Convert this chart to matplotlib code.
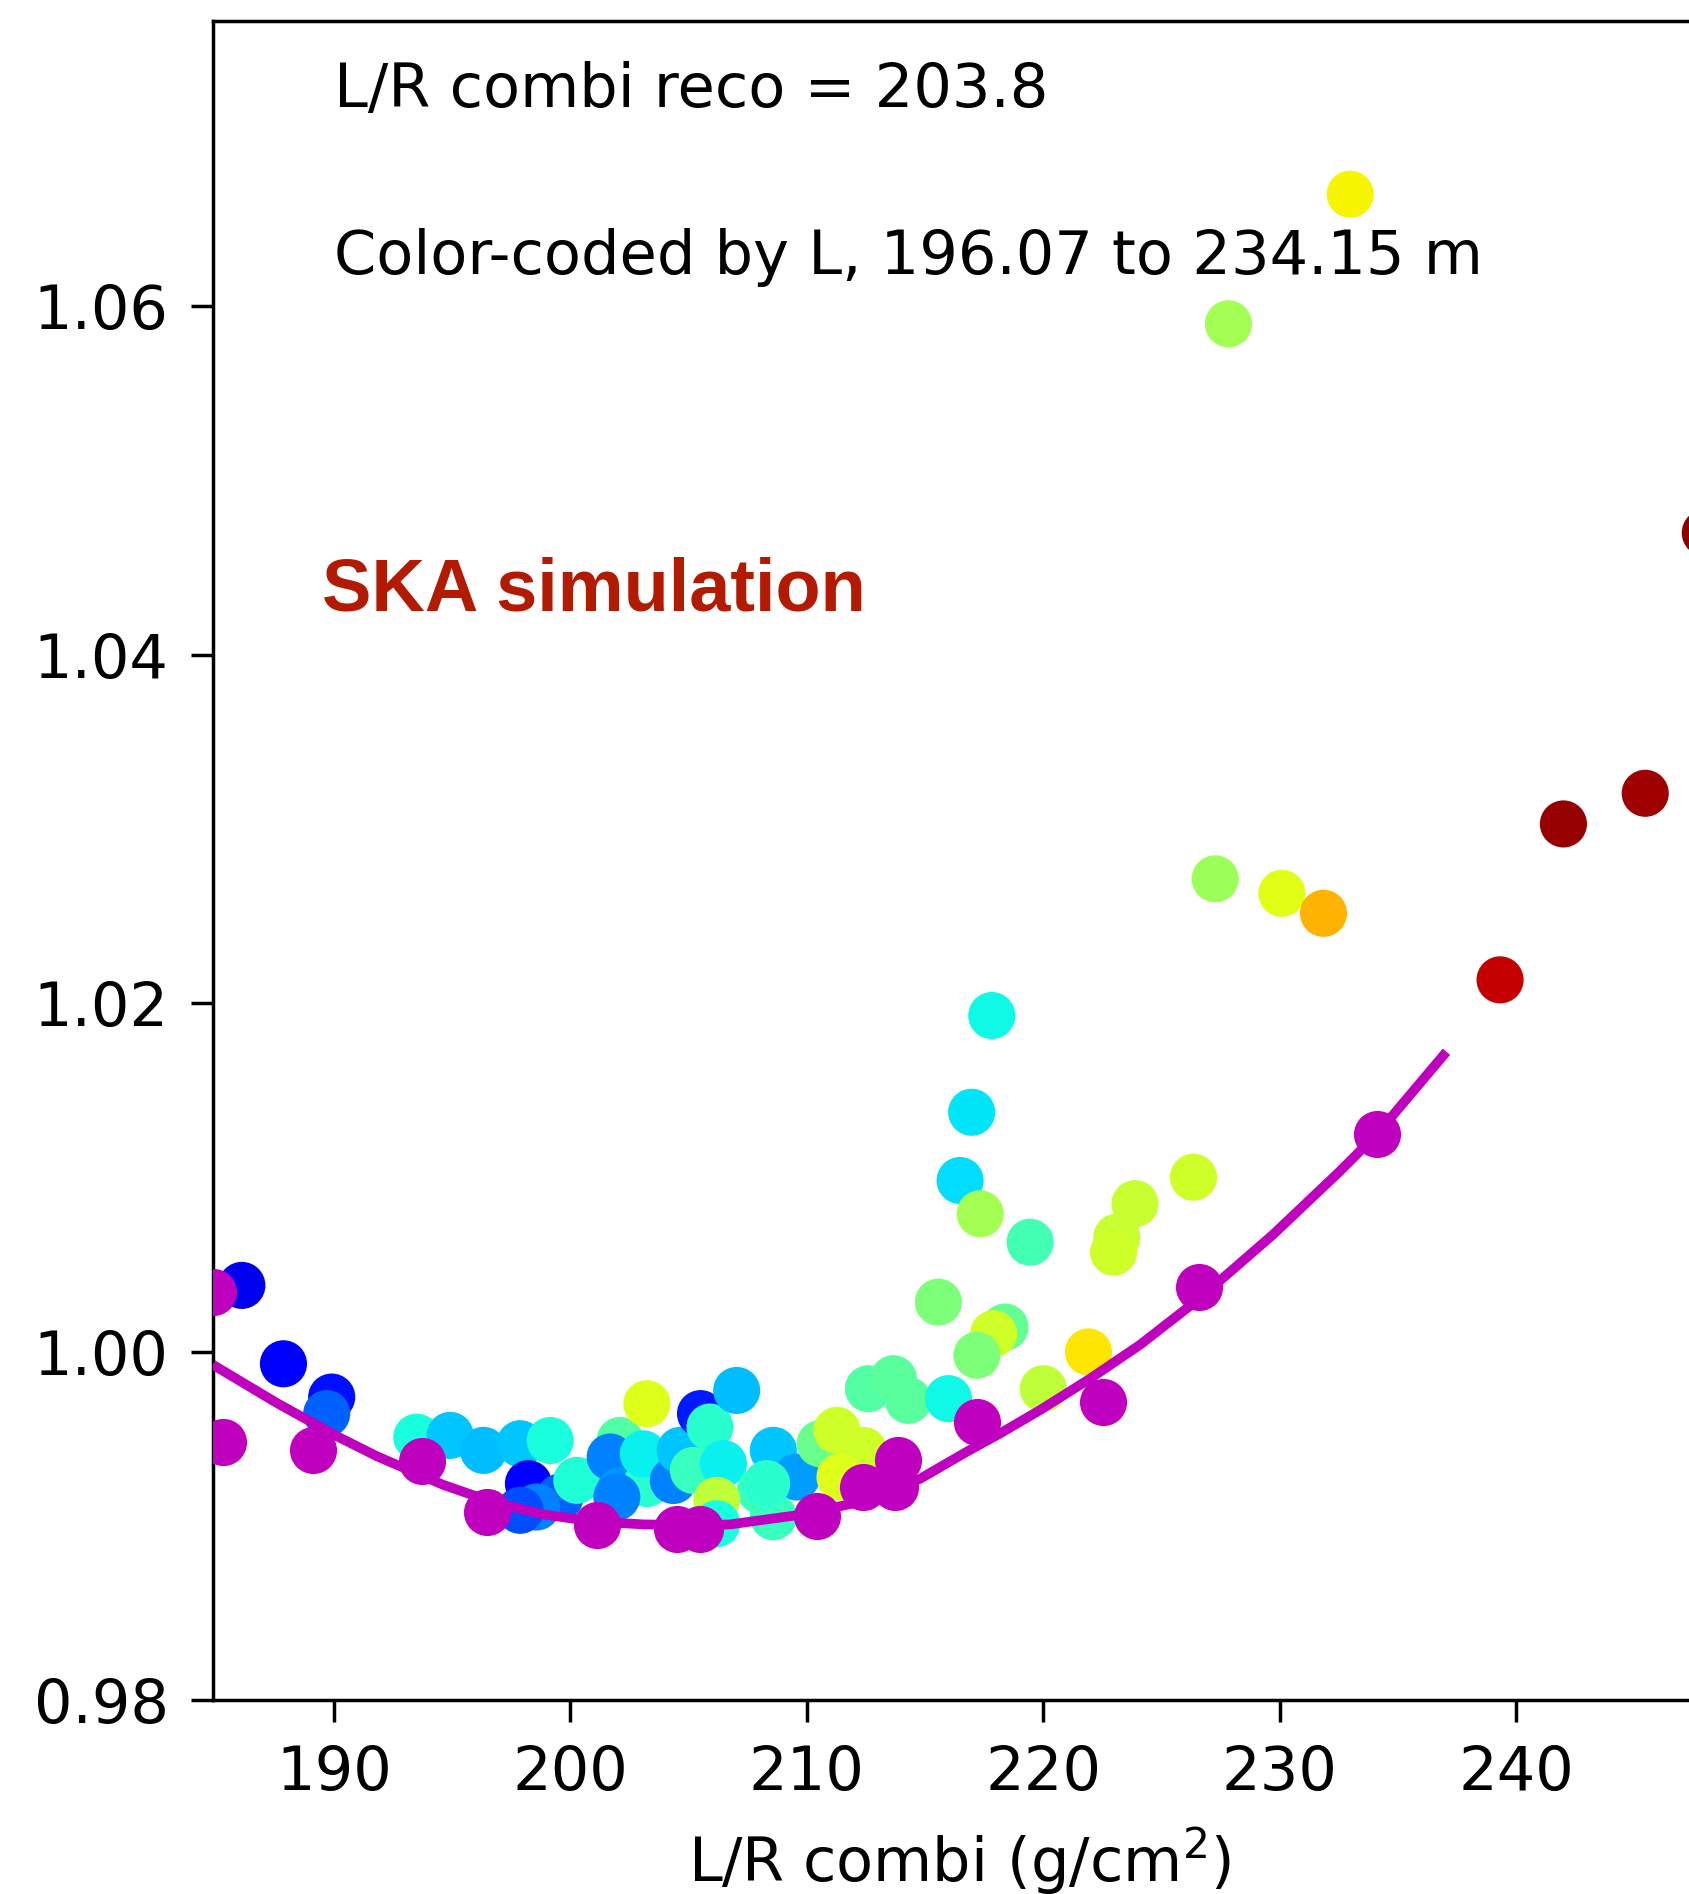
import matplotlib
matplotlib.use('Agg')
import matplotlib.pyplot as plt

# ---- data ----
# colour-coded points: L/R combi, ratio, colour level (0..1 on jet)
lr_combi = [186.10, 187.86, 189.90, 189.69, 193.50, 194.91, 196.32, 197.87, 199.14,
            198.22, 199.56, 198.57, 197.87, 200.27, 202.10, 203.23, 201.68, 202.10,
            203.23, 203.08, 201.96, 204.35, 204.64, 205.50, 205.90, 205.20, 206.47,
            207.03, 208.58, 209.56, 208.03, 210.56, 211.27, 212.39, 206.19, 208.58,
            206.19, 208.30, 211.40, 212.60, 213.66, 214.29, 215.99, 215.56, 218.38,
            217.90, 217.19, 221.91, 220.00, 217.82, 216.97, 216.48, 217.33, 219.44,
            226.35, 223.88, 223.11, 222.97, 227.27, 230.09, 231.85, 239.32, 242.00,
            245.46, 232.98, 227.83, 248.00]
ratio = [1.00380, 0.99930, 0.99739, 0.99644, 0.99509, 0.99519, 0.99433, 0.99471, 0.99490,
         0.99242, 0.99165, 0.99108, 0.99089, 0.99261, 0.99490, 0.99701, 0.99395, 0.99203,
         0.99242, 0.99413, 0.99165, 0.99260, 0.99433, 0.99644, 0.99567, 0.99318, 0.99357,
         0.99777, 0.99433, 0.99280, 0.99203, 0.99471, 0.99548, 0.99433, 0.99146, 0.99052,
         0.99012, 0.99242, 0.99280, 0.99787, 0.99844, 0.99720, 0.99730, 1.00284, 1.00141,
         1.00103, 0.99979, 0.99998, 0.99787, 1.01929, 1.01374, 1.00982, 1.00791, 1.00628,
         1.01001, 1.00849, 1.00657, 1.00571, 1.02714, 1.02631, 1.02516, 1.02134, 1.03029,
         1.03205, 1.06644, 1.05900, 1.04700]
colour_level = [0.10, 0.12, 0.14, 0.22, 0.38, 0.32, 0.31, 0.32, 0.38,
                0.11, 0.22, 0.25, 0.20, 0.39, 0.45, 0.62, 0.25, 0.27,
                0.40, 0.36, 0.25, 0.25, 0.32, 0.15, 0.40, 0.42, 0.36,
                0.31, 0.32, 0.28, 0.42, 0.48, 0.60, 0.60, 0.58, 0.42,
                0.38, 0.40, 0.62, 0.45, 0.46, 0.46, 0.37, 0.50, 0.47,
                0.60, 0.50, 0.667, 0.58, 0.37, 0.35, 0.34, 0.55, 0.43,
                0.60, 0.59, 0.59, 0.60, 0.54, 0.623, 0.72, 0.938, 0.978,
                0.971, 0.65, 0.55, 0.985]

# magenta points
mag_x = [184.90, 185.32, 189.12, 193.71, 196.45, 201.11, 204.50, 205.48, 210.42,
         212.39, 213.73, 213.87, 217.19, 222.54, 226.60, 234.11]
mag_y = [1.00341, 0.99480, 0.99433, 0.99373, 0.99078, 0.99003, 0.98984, 0.98984, 0.99059,
         0.99223, 0.99223, 0.99376, 0.99595, 0.99710, 1.00370, 1.01250]

# magenta curve, points
curve_x = [185.04, 187.58, 190.11, 191.80, 194.62, 196.74, 198.85, 200.97, 203.08,
           205.50, 206.75, 209.71, 212.53, 214.79, 216.76, 218.17, 219.87, 221.98,
           224.10, 226.56, 229.72, 232.54, 234.09, 236.92]
curve_y = [0.99911, 0.99705, 0.99515, 0.99400, 0.99235, 0.99135, 0.99065, 0.99025, 0.99008,
           0.99003, 0.99008, 0.99063, 0.99145, 0.99270, 0.99425, 0.99530, 0.99665, 0.99845,
           1.00040, 1.00300, 1.00672, 1.01035, 1.01245, 1.01700]

x_ticks = [190, 200, 210, 220, 230, 240]
y_ticks = [0.98, 1.00, 1.02, 1.04, 1.06]
y_tick_labels = ['0.98', '1.00', '1.02', '1.04', '1.06']

# ---- figure ----
fig = plt.figure(figsize=(16.9, 18.94), dpi=100)
ax = fig.add_axes([0.12604, 0.10243, 0.8830, 0.88664])

ax.scatter(lr_combi, ratio, c=colour_level, cmap='jet', vmin=0, vmax=1,
           s=1150, linewidths=0, zorder=2)
ax.plot(curve_x, curve_y, color='m', lw=7, zorder=3, solid_joinstyle='round')
ax.scatter(mag_x, mag_y, color='m', s=1150, linewidths=0, zorder=4)

ax.set_xlim(184.88, 248.0)
ax.set_ylim(0.98, 1.0764)
ax.set_xticks(x_ticks)
ax.set_yticks(y_ticks)
ax.set_yticklabels(y_tick_labels)

for sp in ax.spines.values():
    sp.set_linewidth(2.5)
ax.tick_params(axis='both', length=16, width=2.5, pad=16, labelsize=43.7)

ax.set_xlabel('L/R combi (g/cm$^2$)', fontsize=43.7, labelpad=16)

ax.text(190.0, 1.07142, 'L/R combi reco = 203.8', fontsize=43.7, va='baseline', ha='left')
ax.text(190.0, 1.06187, 'Color-coded by L, 196.07 to 234.15 m', fontsize=43.7,
        va='baseline', ha='left')
ax.text(189.49, 1.04252, 'SKA simulation', fontsize=53.3, fontweight='bold',
        family='Liberation Sans', color='#B31A02', va='baseline', ha='left')

fig.savefig('out.png', dpi=100)
